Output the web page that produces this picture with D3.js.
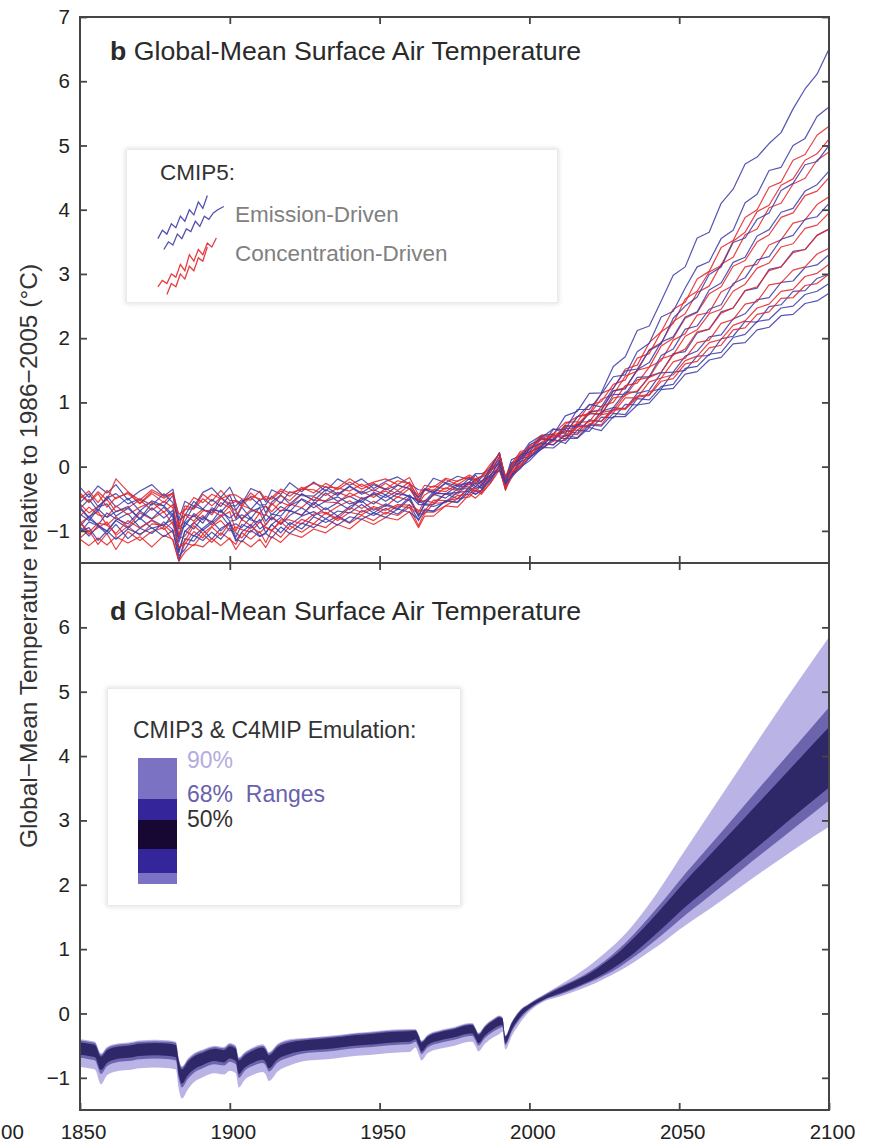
<!DOCTYPE html>
<html>
<head>
<meta charset="utf-8">
<script src="https://cdn.jsdelivr.net/npm/d3@7"></script>
<style>
  html, body { margin: 0; padding: 0; background: #fff; }
  svg { display: block; font-family: "Liberation Sans", Arial, sans-serif; }
</style>
</head>
<body>
<svg id="chart" width="872" height="1144"></svg>
<script>
// ---------------- Data ----------------
// Model years sampled for the CMIP5 runs (panel b)
const years = [1850,1853,1856,1859,1862,1866,1870,1874,1878,1881,1883,1885,1888,1891,1894,1897,1900,1902,1904,1907,
  1910,1912,1914,1917,1920,1924,1928,1932,1936,1940,1944,1948,1952,1956,1960,1963,1965,1968,1972,1976,
  1980,1982,1984,1987,1990,1992,1994,1997,2000,2004,2008,2012,2016,2020,2024,2028,2032,2036,2040,2044,
  2048,2052,2056,2060,2064,2068,2072,2076,2080,2084,2088,2092,2096,2100];

// Emission-driven CMIP5 runs (°C relative to 1986-2005)
const emis1 = [-0.32,-0.48,-0.30,-0.41,-0.28,-0.52,-0.38,-0.28,-0.46,-0.35, -0.82,-0.54,-0.62,-0.40,-0.33,-0.48,-0.32,-0.52,-0.58,-0.34,
  -0.40,-0.55,-0.36,-0.43,-0.25,-0.39,-0.24,-0.38,-0.19,-0.29, -0.19,-0.34,-0.23,-0.16,-0.27,-0.36,-0.37,-0.18,-0.25,-0.15,
  -0.20,-0.11,-0.11,-0.04,0.22,-0.19,0.11,0.17,0.37,
  0.49,0.50,0.79,0.86,1.14,1.15,1.56,1.71,2.12,2.19, 2.58,2.98,3.11,3.56,3.65,4.10,4.32,4.71,4.82,5.03, 5.20,5.57,5.88,6.11,6.50];
const emis2 = [-0.93,-0.77,-0.91,-1.00,-0.83,-0.73,-0.95,-0.83,-0.93,-0.73, -1.31,-1.01,-0.87,-0.99,-0.88,-0.75,-0.93,-0.89,-0.95,-0.79,
  -0.97,-0.90,-0.79,-0.90,-0.76,-0.64,-0.77,-0.64,-0.77,-0.62, -0.53,-0.68,-0.58,-0.65,-0.47,-0.76,-0.58,-0.59,-0.42,-0.50,
  -0.32,-0.39,-0.29,-0.13,-0.02,-0.25,-0.15,0.12,0.16,
  0.33,0.58,0.58,0.89,0.89,1.13,1.40,1.43,1.79,1.92, 2.33,2.42,2.78,3.11,3.19,3.55,3.68,4.11,4.24,4.61, 4.66,5.00,5.11,5.45,5.60];
const emis3 = [-0.63,-0.79,-0.63,-0.58,-0.77,-0.65,-0.81,-0.57,-0.61,-0.75, -0.97,-0.93,-0.73,-0.83,-0.64,-0.71,-0.55,-0.81,-0.63,-0.81,
  -0.63,-0.62,-0.75,-0.62,-0.70,-0.50,-0.59,-0.41,-0.54,-0.46, -0.56,-0.40,-0.48,-0.38,-0.47,-0.51,-0.55,-0.39,-0.43,-0.30,
  -0.32,-0.19,-0.30,-0.04,0.11,-0.29,-0.01,0.06,0.28,
  0.45,0.59,0.52,0.77,0.97,0.93,1.22,1.49,1.52,1.81, 1.91,2.31,2.50,2.64,2.99,3.11,3.49,3.56,3.85,3.95, 4.30,4.41,4.70,4.75,5.00];
const emis4 = [-0.94,-1.08,-0.92,-1.05,-0.90,-1.12,-0.96,-1.04,-0.86,-0.98, -1.46,-1.12,-1.16,-0.98,-1.13,-0.96,-0.88,-1.16,-1.02,-0.90,
  -1.08,-1.03,-0.90,-1.03,-0.87,-0.97,-0.78,-0.87,-0.77,-0.87, -0.68,-0.76,-0.65,-0.74,-0.59,-0.84,-0.66,-0.70,-0.53,-0.55,
  -0.35,-0.43,-0.37,-0.22,0.02,-0.35,-0.13,-0.01,0.09,
  0.28,0.43,0.59,0.61,0.84,0.89,1.18,1.21,1.51,1.62, 1.94,2.02,2.33,2.41,2.75,2.86,3.18,3.26,3.59,3.69, 3.96,4.02,4.29,4.39,4.60];
const emis5 = [-0.65,-0.51,-0.69,-0.46,-0.63,-0.49,-0.69,-0.53,-0.61,-0.45, -0.95,-0.85,-0.61,-0.67,-0.72,-0.49,-0.61,-0.61,-0.51,-0.67,
  -0.51,-0.72,-0.55,-0.44,-0.58,-0.42,-0.53,-0.36,-0.45,-0.31, -0.43,-0.36,-0.44,-0.29,-0.34,-0.56,-0.36,-0.41,-0.26,-0.35,
  -0.18,-0.27,-0.17,-0.09,0.16,-0.16,-0.06,0.19,0.23,
  0.47,0.40,0.64,0.62,0.83,0.81,1.12,1.13,1.39,1.40, 1.73,1.83,2.14,2.19,2.45,2.52,2.85,2.94,3.22,3.27, 3.54,3.60,3.85,3.89,4.10];
const emis6 = [-0.65,-0.81,-0.91,-0.72,-0.81,-0.89,-0.69,-0.81,-0.63,-0.79, -1.11,-0.87,-0.97,-0.79,-0.86,-0.67,-0.85,-0.83,-0.75,-0.83,
  -0.87,-0.74,-0.83,-0.68,-0.68,-0.76,-0.55,-0.67,-0.56,-0.67, -0.48,-0.58,-0.44,-0.56,-0.44,-0.59,-0.59,-0.43,-0.49,-0.35,
  -0.34,-0.25,-0.34,-0.06,0.04,-0.20,-0.05,0.15,0.23,
  0.31,0.50,0.43,0.66,0.62,0.86,0.92,1.16,1.16,1.41, 1.47,1.76,1.79,2.08,2.14,2.41,2.47,2.74,2.78,3.07, 3.11,3.35,3.38,3.60,3.70];
const emis7 = [-0.56,-0.42,-0.62,-0.49,-0.42,-0.58,-0.50,-0.60,-0.42,-0.56, -0.84,-0.76,-0.54,-0.66,-0.51,-0.62,-0.44,-0.68,-0.54,-0.48,
  -0.60,-0.59,-0.46,-0.57,-0.39,-0.45,-0.46,-0.31,-0.43,-0.30, -0.41,-0.28,-0.36,-0.29,-0.34,-0.48,-0.35,-0.40,-0.25,-0.30,
  -0.24,-0.13,-0.25,-0.02,0.21,-0.20,0.06,0.12,0.34,
  0.42,0.42,0.56,0.52,0.73,0.70,0.92,0.90,1.14,1.19, 1.46,1.47,1.72,1.80,2.02,2.05,2.30,2.38,2.60,2.63, 2.87,2.89,3.10,3.14,3.30];
const emis8 = [-1.02,-0.86,-0.92,-1.01,-0.84,-0.96,-0.80,-0.96,-0.90,-0.82, -1.34,-1.00,-1.08,-0.96,-0.85,-1.00,-0.86,-1.10,-0.90,-0.96,
  -0.82,-1.03,-0.90,-0.79,-0.91,-0.77,-0.70,-0.81,-0.69,-0.72, -0.59,-0.72,-0.60,-0.67,-0.50,-0.78,-0.59,-0.62,-0.55,-0.40,
  -0.38,-0.31,-0.33,-0.20,0.03,-0.24,-0.16,0.08,0.14,
  0.27,0.43,0.36,0.57,0.55,0.77,0.76,0.97,0.96,1.17, 1.21,1.47,1.50,1.72,1.73,1.99,2.03,2.26,2.25,2.49, 2.52,2.73,2.74,2.93,3.00];
const emis9 = [-0.74,-0.84,-0.66,-0.79,-0.70,-0.62,-0.82,-0.64,-0.80,-0.68, -1.18,-0.88,-0.76,-0.88,-0.67,-0.70,-0.80,-0.72,-0.82,-0.70,
  -0.64,-0.85,-0.74,-0.77,-0.61,-0.51,-0.64,-0.54,-0.47,-0.58, -0.52,-0.42,-0.54,-0.42,-0.46,-0.54,-0.58,-0.42,-0.42,-0.40,
  -0.24,-0.31,-0.22,-0.14,0.09,-0.26,0.00,0.12,0.28,
  0.37,0.34,0.49,0.45,0.65,0.63,0.83,0.81,1.06,1.04, 1.25,1.28,1.53,1.56,1.75,1.78,2.01,2.06,2.26,2.29, 2.47,2.50,2.68,2.73,2.85];
const emis10 = [-1.01,-0.95,-1.15,-1.00,-1.13,-0.97,-1.05,-0.95,-1.09,-0.99, -1.39,-1.29,-1.07,-1.15,-1.02,-1.13,-0.95,-1.13,-1.17,-0.99,
  -1.09,-1.04,-1.11,-0.94,-1.04,-0.88,-0.95,-0.81,-0.91,-0.78, -0.82,-0.72,-0.79,-0.66,-0.71,-0.82,-0.69,-0.69,-0.53,-0.56,
  -0.39,-0.43,-0.37,-0.17,-0.05,-0.27,-0.15,-0.03,0.14,
  0.30,0.29,0.44,0.44,0.61,0.56,0.78,0.78,0.96,0.99, 1.20,1.22,1.44,1.48,1.66,1.70,1.91,1.93,2.13,2.17, 2.35,2.37,2.54,2.58,2.70];

// Concentration-driven CMIP5 runs (°C relative to 1986-2005)
const conc1 = [-1.11,-0.99,-1.21,-1.04,-1.29,-1.01,-1.15,-1.01,-0.95,-1.15, -1.47,-1.19,-1.23,-1.05,-1.18,-1.03,-1.13,-1.21,-1.03,-1.13,
  -1.01,-1.18,-0.99,-1.10,-0.92,-1.02,-0.89,-0.95,-0.79,-0.88, -0.76,-0.84,-0.71,-0.76,-0.63,-0.92,-0.71,-0.71,-0.61,-0.50,
  -0.47,-0.37,-0.43,-0.25,0.01,-0.37,-0.13,0.04,0.18,
  0.44,0.42,0.66,0.78,0.83,1.14,1.22,1.52,1.58,1.93, 2.10,2.45,2.56,2.92,3.04,3.41,3.52,3.88,4.00,4.35, 4.43,4.77,4.86,5.16,5.30];
const conc2 = [-0.41,-0.55,-0.39,-0.52,-0.19,-0.39,-0.57,-0.39,-0.49,-0.41, -0.91,-0.61,-0.65,-0.43,-0.54,-0.37,-0.53,-0.53,-0.59,-0.41,
  -0.53,-0.46,-0.51,-0.38,-0.46,-0.32,-0.41,-0.26,-0.36,-0.24, -0.35,-0.26,-0.35,-0.22,-0.27,-0.47,-0.34,-0.37,-0.20,-0.28,
  -0.16,-0.21,-0.15,0.00,0.21,-0.21,0.04,0.24,0.26,
  0.48,0.51,0.69,0.70,0.96,1.01,1.28,1.35,1.69,1.76, 2.10,2.23,2.61,2.73,3.03,3.13,3.51,3.65,3.97,4.07, 4.38,4.48,4.77,4.87,5.10];
const conc3 = [-0.88,-0.78,-0.70,-0.91,-0.78,-0.94,-0.72,-0.82,-0.70,-0.90, -1.12,-1.08,-0.88,-0.76,-0.91,-0.78,-0.70,-1.00,-0.82,-0.92,
  -0.72,-0.91,-0.78,-0.89,-0.69,-0.75,-0.58,-0.74,-0.62,-0.53, -0.65,-0.54,-0.62,-0.47,-0.53,-0.71,-0.53,-0.56,-0.42,-0.43,
  -0.26,-0.35,-0.28,-0.15,0.08,-0.27,-0.11,0.11,0.21,
  0.33,0.52,0.52,0.78,0.81,1.05,1.12,1.41,1.49,1.82, 1.93,2.26,2.38,2.71,2.81,3.15,3.26,3.61,3.70,4.03, 4.10,4.40,4.49,4.77,4.90];
const conc4 = [-0.58,-0.72,-0.62,-0.51,-0.70,-0.64,-0.52,-0.68,-0.54,-0.64, -1.08,-0.74,-0.78,-0.66,-0.75,-0.56,-0.64,-0.80,-0.60,-0.66,
  -0.72,-0.61,-0.70,-0.55,-0.61,-0.43,-0.52,-0.53,-0.40,-0.47, -0.38,-0.48,-0.34,-0.43,-0.29,-0.57,-0.44,-0.36,-0.39,-0.27,
  -0.28,-0.21,-0.26,-0.03,0.06,-0.15,0.01,0.17,0.29,
  0.44,0.40,0.63,0.64,0.86,0.87,1.18,1.23,1.50,1.55, 1.88,2.00,2.31,2.40,2.69,2.80,3.12,3.21,3.50,3.61, 3.88,3.95,4.22,4.29,4.50];
const conc5 = [-1.13,-1.23,-1.11,-1.22,-1.09,-1.19,-1.09,-1.25,-1.07,-1.13, -1.47,-1.33,-1.21,-1.25,-1.12,-1.23,-1.11,-1.29,-1.15,-1.25,
  -1.13,-1.26,-1.09,-1.18,-1.04,-1.10,-0.97,-1.03,-0.90,-0.97, -0.82,-0.90,-0.79,-0.83,-0.70,-0.95,-0.77,-0.77,-0.61,-0.63,
  -0.43,-0.49,-0.40,-0.26,-0.05,-0.34,-0.18,0.01,0.13,
  0.31,0.49,0.47,0.69,0.70,0.94,1.00,1.26,1.30,1.55, 1.65,1.97,2.07,2.36,2.40,2.72,2.82,3.11,3.15,3.45, 3.53,3.79,3.84,4.08,4.20];
const conc6 = [-0.44,-0.56,-0.42,-0.63,-0.48,-0.42,-0.58,-0.42,-0.56,-0.40, -0.94,-0.66,-0.66,-0.50,-0.61,-0.48,-0.58,-0.54,-0.62,-0.46,
  -0.50,-0.51,-0.60,-0.45,-0.53,-0.35,-0.36,-0.45,-0.33,-0.38, -0.27,-0.38,-0.26,-0.37,-0.24,-0.52,-0.37,-0.30,-0.35,-0.22,
  -0.16,-0.23,-0.15,-0.06,0.15,-0.24,0.04,0.14,0.32,
  0.48,0.46,0.61,0.66,0.83,0.82,1.07,1.10,1.35,1.39, 1.68,1.74,2.03,2.13,2.38,2.45,2.73,2.84,3.09,3.17, 3.42,3.47,3.71,3.76,3.95];
const conc7 = [-0.87,-1.05,-0.95,-0.86,-1.07,-0.93,-1.07,-0.89,-0.91,-1.03, -1.25,-1.21,-1.01,-1.11,-0.94,-1.07,-0.87,-1.03,-1.11,-0.93,
  -1.03,-0.94,-0.99,-0.86,-0.98,-0.82,-0.89,-0.72,-0.84,-0.71, -0.75,-0.64,-0.74,-0.61,-0.64,-0.73,-0.74,-0.57,-0.56,-0.45,
  -0.43,-0.33,-0.41,-0.16,-0.05,-0.32,-0.10,0.01,0.19,
  0.27,0.40,0.41,0.62,0.64,0.84,0.88,1.12,1.18,1.39, 1.47,1.74,1.83,2.10,2.14,2.39,2.47,2.74,2.80,3.05, 3.11,3.33,3.38,3.60,3.70];
const conc8 = [-0.77,-0.63,-0.75,-0.78,-0.61,-0.75,-0.63,-0.55,-0.71,-0.59, -1.07,-0.75,-0.85,-0.69,-0.68,-0.77,-0.61,-0.69,-0.81,-0.67,
  -0.73,-0.76,-0.57,-0.70,-0.58,-0.64,-0.47,-0.55,-0.56,-0.41, -0.50,-0.44,-0.38,-0.48,-0.34,-0.55,-0.53,-0.45,-0.33,-0.37,
  -0.24,-0.27,-0.24,-0.06,0.05,-0.19,-0.07,0.14,0.20,
  0.38,0.49,0.43,0.63,0.62,0.81,0.84,1.07,1.07,1.32, 1.38,1.63,1.69,1.93,1.97,2.23,2.29,2.53,2.57,2.83, 2.86,3.06,3.11,3.31,3.40];
const conc9 = [-0.86,-1.02,-0.88,-0.91,-1.04,-0.84,-0.96,-0.84,-0.98,-0.86, -1.26,-1.16,-0.92,-1.04,-0.93,-0.84,-1.00,-0.94,-0.98,-1.02,
  -0.86,-0.95,-1.00,-0.83,-0.83,-0.89,-0.74,-0.71,-0.81,-0.64, -0.71,-0.62,-0.68,-0.59,-0.60,-0.68,-0.69,-0.52,-0.53,-0.50,
  -0.32,-0.39,-0.37,-0.12,-0.01,-0.32,-0.08,0.00,0.20,
  0.36,0.34,0.51,0.50,0.67,0.65,0.89,0.91,1.10,1.12, 1.38,1.43,1.65,1.72,1.93,1.98,2.20,2.27,2.47,2.53, 2.73,2.76,2.96,3.01,3.15];
const conc10 = [-0.50,-0.38,-0.56,-0.37,-0.50,-0.40,-0.52,-0.36,-0.46,-0.42, -0.74,-0.68,-0.48,-0.56,-0.43,-0.50,-0.44,-0.44,-0.50,-0.52,
  -0.38,-0.51,-0.48,-0.35,-0.41,-0.35,-0.26,-0.32,-0.33,-0.19, -0.31,-0.24,-0.19,-0.28,-0.17,-0.44,-0.29,-0.32,-0.18,-0.23,
  -0.13,-0.19,-0.15,0.04,0.20,-0.15,0.01,0.21,0.29,
  0.43,0.45,0.56,0.57,0.71,0.71,0.88,0.89,1.08,1.11, 1.33,1.37,1.60,1.64,1.85,1.89,2.13,2.16,2.37,2.41, 2.62,2.63,2.82,2.85,3.00];

// Legend sample traces (in the panel's own year / °C coordinates)
const legendEmisYearsA = [1876,1877.5,1879,1880.5,1882,1883.5,1885,1886.5,1888,1889.5,1891,1892.5];
const legendEmisA      = [3.55,3.68,3.62,3.78,3.72,3.90,3.82,4.00,3.92,4.12,4.02,4.22];
const legendEmisYearsB = [1878,1879.5,1881,1882.5,1884,1885.5,1887,1888.5,1890,1891.5,1893,1894.5,1896,1898];
const legendEmisB      = [3.38,3.50,3.45,3.62,3.55,3.70,3.66,3.82,3.74,3.90,3.85,3.95,4.00,4.05];
const legendConcYearsA = [1876,1877.5,1879,1880.5,1882,1883.5,1885,1886.5,1888,1889.5,1891,1892.5,1894,1895.5];
const legendConcA      = [2.80,2.90,2.85,3.00,2.95,3.15,3.05,3.30,3.20,3.38,3.30,3.48,3.42,3.56];
const legendConcYearsB = [1879,1880.5,1882,1883.5,1885,1886.5,1888,1889.5,1891,1892.5];
const legendConcB      = [2.68,2.85,2.80,3.00,2.92,3.12,3.05,3.25,3.20,3.42];

// CMIP3 & C4MIP emulation percentiles (panel d)
const emuYears = [1850,1853,1855,1857,1859,1862,1866,1870,1875,1880,
  1882,1883,1884,1886,1888,1891,1895,1898,1900,1902,
  1903,1905,1908,1911,1912,1913,1916,1920,1925,1930,
  1935,1940,1945,1950,1955,1960,1962,1963,1964,1966,
  1970,1975,1980,1981,1982,1983,1985,1988,1990,1991,
  1992,1994,1997,2000,
  2005,2010,2015,2020,2025,2030,2035,2040,2045,2050,2060,2070,2080,2090,2100];
const emuP05 = [-0.83,-0.85,-0.87,-1.10,-0.96,-0.90,-0.88,-0.85,-0.84,-0.85,
  -0.87,-1.18,-1.32,-1.18,-1.07,-0.99,-0.93,-0.95,-0.89,-0.93,
  -1.15,-1.03,-0.95,-0.91,-0.95,-1.05,-0.90,-0.81,-0.74,-0.72,
  -0.70,-0.67,-0.65,-0.63,-0.61,-0.60,-0.53,-0.63,-0.73,-0.62,
  -0.55,-0.50,-0.44,-0.44,-0.51,-0.59,-0.48,-0.37,-0.32,-0.28,
  -0.56,-0.36,-0.14,0.03,
  0.19,0.26,0.34,0.43,0.54,0.66,0.80,0.96,1.12,1.30,1.62,1.95,2.28,2.60,2.90];
const emuP16 = [-0.69,-0.71,-0.73,-0.94,-0.82,-0.76,-0.74,-0.71,-0.70,-0.71,
  -0.73,-1.02,-1.15,-1.02,-0.92,-0.85,-0.79,-0.81,-0.75,-0.79,
  -1.00,-0.89,-0.81,-0.77,-0.81,-0.90,-0.76,-0.68,-0.62,-0.60,
  -0.58,-0.55,-0.53,-0.51,-0.49,-0.48,-0.44,-0.53,-0.63,-0.53,
  -0.46,-0.41,-0.35,-0.35,-0.42,-0.50,-0.39,-0.28,-0.23,-0.21,
  -0.49,-0.29,-0.08,0.06,
  0.21,0.29,0.38,0.48,0.59,0.72,0.88,1.06,1.25,1.45,1.82,2.20,2.57,2.94,3.31];
const emuP25 = [-0.64,-0.66,-0.68,-0.88,-0.77,-0.71,-0.69,-0.66,-0.65,-0.66,
  -0.68,-0.96,-1.09,-0.96,-0.87,-0.80,-0.74,-0.76,-0.70,-0.74,
  -0.94,-0.84,-0.76,-0.72,-0.76,-0.85,-0.71,-0.63,-0.58,-0.56,
  -0.54,-0.51,-0.49,-0.47,-0.45,-0.44,-0.40,-0.49,-0.59,-0.49,
  -0.42,-0.37,-0.31,-0.31,-0.38,-0.46,-0.35,-0.24,-0.19,-0.18,
  -0.46,-0.26,-0.05,0.08,
  0.22,0.31,0.40,0.50,0.62,0.77,0.94,1.14,1.35,1.57,1.96,2.35,2.74,3.13,3.51];
const emuP75 = [-0.45,-0.47,-0.49,-0.67,-0.57,-0.52,-0.50,-0.47,-0.46,-0.47,
  -0.49,-0.75,-0.87,-0.75,-0.67,-0.61,-0.55,-0.57,-0.51,-0.55,
  -0.73,-0.65,-0.57,-0.53,-0.57,-0.65,-0.52,-0.45,-0.415,-0.395,
  -0.375,-0.345,-0.325,-0.305,-0.285,-0.275,-0.27,-0.35,-0.45,-0.36,
  -0.29,-0.24,-0.18,-0.18,-0.25,-0.33,-0.22,-0.11,-0.06,-0.08,
  -0.36,-0.16,0.04,0.14,
  0.27,0.39,0.50,0.62,0.78,0.96,1.18,1.42,1.68,1.95,2.45,2.95,3.45,3.95,4.45];
const emuP84 = [-0.42,-0.44,-0.46,-0.64,-0.54,-0.49,-0.47,-0.44,-0.43,-0.44,
  -0.46,-0.72,-0.84,-0.72,-0.64,-0.58,-0.52,-0.54,-0.48,-0.52,
  -0.70,-0.62,-0.54,-0.50,-0.54,-0.62,-0.49,-0.42,-0.395,-0.375,
  -0.355,-0.325,-0.305,-0.285,-0.265,-0.255,-0.255,-0.335,-0.435,-0.345,
  -0.275,-0.225,-0.165,-0.165,-0.235,-0.315,-0.205,-0.095,-0.045,-0.07,
  -0.35,-0.15,0.05,0.15,
  0.29,0.41,0.52,0.65,0.81,1.01,1.24,1.50,1.77,2.06,2.60,3.14,3.68,4.22,4.76];
const emuP95 = [-0.40,-0.42,-0.44,-0.62,-0.52,-0.47,-0.45,-0.42,-0.41,-0.42,
  -0.44,-0.70,-0.82,-0.70,-0.62,-0.56,-0.50,-0.52,-0.46,-0.50,
  -0.68,-0.60,-0.52,-0.48,-0.52,-0.60,-0.47,-0.40,-0.38,-0.36,
  -0.34,-0.31,-0.29,-0.27,-0.25,-0.24,-0.24,-0.32,-0.42,-0.33,
  -0.26,-0.21,-0.15,-0.15,-0.22,-0.30,-0.19,-0.08,-0.03,-0.06,
  -0.34,-0.14,0.06,0.16,
  0.30,0.44,0.58,0.74,0.93,1.14,1.40,1.70,2.04,2.40,3.10,3.80,4.50,5.18,5.85];

// Axis ticks
const xTicks = [1850, 1900, 1950, 2000, 2050, 2100];
const yTicksTop = [-1, 0, 1, 2, 3, 4, 5, 6, 7];
const yTicksBottom = [-1, 0, 1, 2, 3, 4, 5, 6];

// ---------------- Layout ----------------
const L = 80, R = 829;
const topPanel = { top: 17, bottom: 563, id: "b" };
const botPanel = { top: 563, bottom: 1110, id: "d" };

const BLUE = "#3d3da8", RED = "#e3282c";
const FRAME = "#454545";

const x = d3.scaleLinear().domain([1850, 2100]).range([L, R]);
const yTop = d3.scaleLinear().domain([-1.5, 7]).range([topPanel.bottom, topPanel.top]);
const yBot = d3.scaleLinear().domain([-1.5, 7]).range([botPanel.bottom, botPanel.top]);

const svg = d3.select("#chart");
const defs = svg.append("defs");
defs.append("filter").attr("id", "boxBlur")
  .attr("x", "-5%").attr("y", "-5%").attr("width", "110%").attr("height", "110%")
  .append("feGaussianBlur").attr("stdDeviation", 2);
[topPanel, botPanel].forEach(p => {
  defs.append("clipPath").attr("id", "clip-" + p.id)
    .append("rect").attr("x", L).attr("y", p.top).attr("width", R - L).attr("height", p.bottom - p.top);
});

const minus = d => (d < 0 ? "\u2212" + Math.abs(d) : String(d));

// ---------------- Panel b: CMIP5 runs ----------------
const emisRuns = [emis1, emis2, emis3, emis4, emis5, emis6, emis7, emis8, emis9, emis10];
const concRuns = [conc1, conc2, conc3, conc4, conc5, conc6, conc7, conc8, conc9, conc10];
const runs = [];
for (let i = 0; i < emisRuns.length; i++) {
  runs.push({ values: concRuns[i], color: RED });
  runs.push({ values: emisRuns[i], color: BLUE });
}

const runLine = d3.line().x((d, i) => x(years[i])).y(d => yTop(d));
const gRuns = svg.append("g").attr("clip-path", "url(#clip-b)");
gRuns.selectAll("path.run").data(runs).join("path")
  .attr("class", "run")
  .attr("d", d => runLine(d.values))
  .attr("fill", "none")
  .attr("stroke", d => d.color)
  .attr("stroke-width", 1.2)
  .attr("stroke-opacity", 0.88)
  .attr("stroke-linejoin", "round");

// Legend box with a soft grey edge
function legendBox(x0, y0, w, h) {
  svg.append("rect").attr("x", x0).attr("y", y0).attr("width", w).attr("height", h)
    .attr("fill", "none").attr("stroke", "#cfcfcf").attr("stroke-width", 2.5)
    .attr("filter", "url(#boxBlur)");
  svg.append("rect").attr("x", x0).attr("y", y0).attr("width", w).attr("height", h)
    .attr("fill", "#fff");
}
legendBox(127, 150, 430, 152);

const legendLine = (yrs) => d3.line().x((d, i) => x(yrs[i])).y(d => yTop(d));
[[legendEmisYearsA, legendEmisA, BLUE], [legendEmisYearsB, legendEmisB, BLUE],
 [legendConcYearsA, legendConcA, RED], [legendConcYearsB, legendConcB, RED]].forEach(([yrs, vals, c]) => {
  svg.append("path").attr("d", legendLine(yrs)(vals))
    .attr("fill", "none").attr("stroke", c).attr("stroke-width", 1.3).attr("stroke-opacity", 0.9);
});
svg.append("text").attr("x", 160).attr("y", 180).attr("font-size", 22.5).attr("fill", "#333").text("CMIP5:");
svg.append("text").attr("x", 235).attr("y", 222).attr("font-size", 22.5).attr("fill", "#808080").text("Emission-Driven");
svg.append("text").attr("x", 235).attr("y", 261).attr("font-size", 22.5).attr("fill", "#808080").text("Concentration-Driven");

// ---------------- Panel d: emulation ranges ----------------
const band = (lo, hi) => d3.area()
  .curve(d3.curveMonotoneX)
  .x((d, i) => x(emuYears[i]))
  .y0((d, i) => yBot(lo[i]))
  .y1((d, i) => yBot(hi[i]))(emuYears);
const gBands = svg.append("g").attr("clip-path", "url(#clip-d)");
gBands.append("path").attr("d", band(emuP05, emuP95)).attr("fill", "#b9b3e6");
gBands.append("path").attr("d", band(emuP16, emuP84)).attr("fill", "#6d64ae");
gBands.append("path").attr("d", band(emuP25, emuP75)).attr("fill", "#2f2868");

// Legend for panel d
legendBox(108, 689, 352, 216);
svg.append("text").attr("x", 133).attr("y", 738).attr("font-size", 23).attr("fill", "#333")
  .text("CMIP3 & C4MIP Emulation:");
const bar = svg.append("g");
[[758, 799, "#7c72c4"], [799, 820, "#35259a"], [820, 849, "#170833"], [849, 873, "#35259a"], [873, 884, "#7c72c4"]]
  .forEach(([y0, y1, c]) => bar.append("rect").attr("x", 138).attr("y", y0).attr("width", 39).attr("height", y1 - y0).attr("fill", c));
svg.append("text").attr("x", 187).attr("y", 768).attr("font-size", 23).attr("fill", "#b3acdf").text("90%");
svg.append("text").attr("x", 187).attr("y", 802).attr("font-size", 23).attr("fill", "#6a61ac").text("68%\u00a0 Ranges");
svg.append("text").attr("x", 187).attr("y", 827).attr("font-size", 23).attr("fill", "#333").text("50%");

// ---------------- Titles ----------------
[["b", 60], ["d", 620]].forEach(([letter, yBase]) => {
  const t = svg.append("text").attr("x", 110).attr("y", yBase).attr("font-size", 26.7).attr("fill", "#2a2a2a");
  t.append("tspan").attr("font-weight", "bold").text(letter);
  t.append("tspan").text(" Global-Mean Surface Air Temperature");
});

// ---------------- Axes & frames ----------------
function styleAxis(g) {
  g.select(".domain").remove();
  g.selectAll(".tick line").attr("stroke", FRAME).attr("stroke-width", 1.8);
  g.selectAll(".tick text").attr("fill", "#222").attr("font-size", 20.5)
    .attr("font-family", "Liberation Sans, Arial, sans-serif");
}

[[topPanel, yTop, yTicksTop], [botPanel, yBot, yTicksBottom]].forEach(([p, y, ticks]) => {
  svg.append("g").attr("transform", `translate(${L},0)`)
    .call(d3.axisLeft(y).tickValues(ticks).tickSize(-7).tickPadding(10).tickFormat(minus))
    .call(styleAxis);
  svg.append("g").attr("transform", `translate(${R},0)`)
    .call(d3.axisRight(y).tickValues(ticks).tickSize(-7).tickFormat(""))
    .call(styleAxis);
  svg.append("rect").attr("x", L).attr("y", p.top).attr("width", R - L).attr("height", p.bottom - p.top)
    .attr("fill", "none").attr("stroke", FRAME).attr("stroke-width", 2);
});

const innerX = xTicks.slice(1, -1);
svg.append("g").attr("transform", `translate(0,${topPanel.top})`)
  .call(d3.axisTop(x).tickValues(innerX).tickSize(-7).tickFormat("")).call(styleAxis);
svg.append("g").attr("transform", `translate(0,${topPanel.bottom})`)
  .call(d3.axisBottom(x).tickValues(innerX).tickSize(7).tickFormat("")).call(styleAxis);
svg.append("g").attr("transform", `translate(0,${topPanel.bottom})`)
  .call(d3.axisTop(x).tickValues(innerX).tickSize(7).tickFormat("")).call(styleAxis);
const xAxis = svg.append("g").attr("transform", `translate(0,${botPanel.bottom})`)
  .call(d3.axisBottom(x).tickValues(xTicks).tickSize(-7).tickFormat(d3.format("d")))
  .call(styleAxis);
xAxis.selectAll(".tick text").attr("y", 29).attr("dy", 0).attr("dx", 3);

// Trailing digits of the neighbouring panel's last year label
svg.append("text").attr("x", 1).attr("y", 1139)
  .attr("font-size", 20.5).attr("fill", "#222").text("00");

// Shared y-axis title
svg.append("text")
  .attr("transform", "translate(37,556) rotate(-90)")
  .attr("text-anchor", "middle").attr("font-size", 24.5).attr("fill", "#333")
  .text("Global\u2212Mean Temperature relative to 1986\u22122005 (\u00b0C)");
</script>
</body>
</html>
